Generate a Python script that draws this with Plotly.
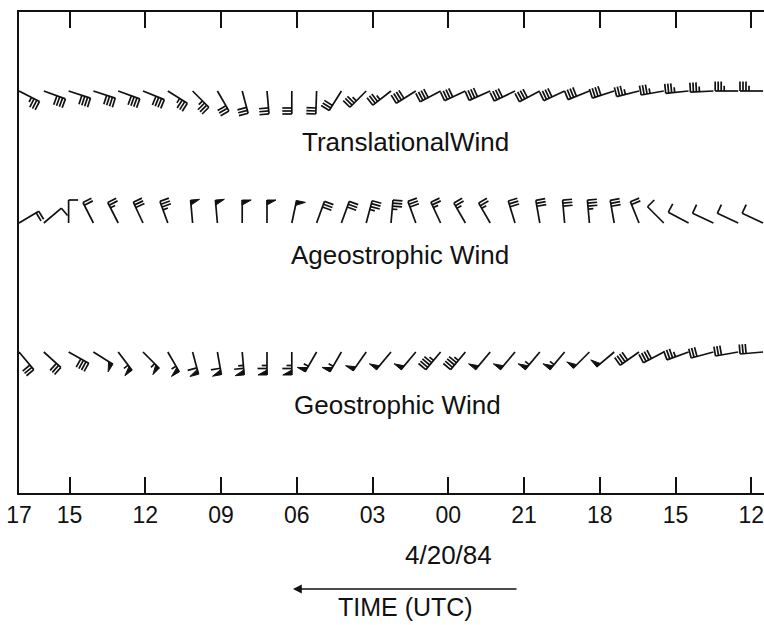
import numpy as np
import plotly.graph_objects as go

# ---------------- data ----------------
# hourly observations, numbered left -> right (time runs right-to-left)
obs_num = list(range(1, 32))

# time axis: hours after 12 UTC 4/19/84 (left edge = 17 UTC 4/20)
tick_hours = [29, 27, 24, 21, 18, 15, 12, 9, 6, 3, 0]
tick_labels = ["17", "15", "12", "09", "06", "03", "00", "21", "18", "15", "12"]

# wind direction (deg, meteorological "from") and speed (kt), left -> right
trans_dir = [117, 110, 108, 108, 110, 112, 122, 135, 150, 165, 175, 180, 182, 212, 225, 232,
             238, 242, 245, 246, 244, 242, 245, 248, 252, 256, 260, 264, 267, 270, 270]
trans_spd = [35, 40, 40, 40, 40, 40, 35, 35, 30, 30, 30, 30, 30, 30, 35, 35,
             40, 40, 40, 40, 40, 40, 40, 40, 40, 35, 35, 35, 35, 35, 35]

ageo_dir = [59, 50, 0, 333, 333, 335, 340, 355, 355, 0, 0, 12, 20, 20, 15, 5,
            340, 335, 330, 330, 343, 350, 355, 355, 350, 338, 315, 298, 295, 295, 295]
ageo_spd = [20, 10, 10, 20, 25, 30, 35, 50, 50, 50, 50, 50, 30, 30, 35, 35,
            30, 25, 25, 25, 30, 30, 30, 35, 30, 20, 10, 10, 10, 10, 10]

geo_dir = [140, 132, 119, 122, 143, 135, 150, 165, 170, 175, 180, 180, 210, 210, 215, 220,
           220, 220, 220, 220, 220, 220, 220, 225, 230, 235, 242, 250, 255, 260, 265]
geo_spd = [30, 30, 40, 50, 55, 55, 55, 60, 60, 65, 65, 65, 55, 55, 50, 50,
           50, 45, 45, 50, 50, 55, 55, 50, 50, 40, 40, 35, 30, 30, 30]

row_names = ["TranslationalWind", "Ageostrophic Wind", "Geostrophic Wind"]

# ---------------- layout constants ----------------
W, H = 764, 625
ML, MR, MT, MB = 19, 0, 12, 132
PW, PH = W - ML - MR, H - MT - MB
X_RANGE = [29.0, -0.5]                 # time axis (reversed)
OBS_SPACING_PX = 24.8
X2_RANGE = [1, 1 + PW / OBS_SPACING_PX]
PX_PER_OBS = PW / (X2_RANGE[1] - X2_RANGE[0])

ROW_Y = [PH - (91 - MT), PH - (223 - MT), PH - (352 - MT)]      # station heights (px units)
LABEL_Y = [PH - (142 - MT), PH - (255 - MT), PH - (405 - MT)]
LABEL_X = [405, 400, 397]

STAFF, FLEN, SPACE, PBASE, PLEN = 23.0, 9.5, 3.0, 5.0, 9.0
INK = "#111111"


def barbs(dirs, spds, y0):
    lx, ly, fx, fy = [], [], [], []

    def to_data(n0, p):
        return n0 + p[0] / PX_PER_OBS, y0 + p[1]

    for n0, th, sp in zip(obs_num, dirs, spds):
        t = np.radians(th)
        d = np.array([np.sin(t), np.cos(t)])
        f = np.array([np.cos(t), -np.sin(t)])
        S = np.zeros(2)
        segs = [(S, S + STAFF * d)]
        n50 = sp // 50
        rem = sp - 50 * n50
        n10 = rem // 10
        rem -= 10 * n10
        n5 = 1 if rem >= 5 else 0
        pos = STAFF
        for _ in range(n50):
            a = S + pos * d
            b = S + (pos - PBASE) * d
            c = a + PLEN * f
            for p in (a, c, b, a):
                x, y = to_data(n0, p)
                fx.append(x); fy.append(y)
            fx.append(None); fy.append(None)
            pos -= PBASE + 1.5
        for _ in range(n10):
            p = S + pos * d
            segs.append((p, p + FLEN * f))
            pos -= SPACE
        for _ in range(n5):
            if n50 == 0 and n10 == 0:
                pos -= SPACE
            p = S + pos * d
            segs.append((p, p + 0.55 * FLEN * f))
        for p, q in segs:
            x1, y1 = to_data(n0, p)
            x2, y2 = to_data(n0, q)
            lx += [x1, x2, None]
            ly += [y1, y2, None]
    return lx, ly, fx, fy


fig = go.Figure()
# time axis carrier (no visible marks) so the time axis is drawn
fig.add_trace(go.Scatter(x=tick_hours, y=[None] * len(tick_hours), mode="markers",
                         marker=dict(opacity=0), hoverinfo="skip", showlegend=False))
for dirs, spds, y0 in zip([trans_dir, ageo_dir, geo_dir],
                          [trans_spd, ageo_spd, geo_spd], ROW_Y):
    lx, ly, fx, fy = barbs(dirs, spds, y0)
    fig.add_trace(go.Scatter(x=lx, y=ly, mode="lines", xaxis="x2",
                             line=dict(color=INK, width=1.7), hoverinfo="skip",
                             showlegend=False))
    if fx:
        fig.add_trace(go.Scatter(x=fx, y=fy, mode="lines", fill="toself", xaxis="x2",
                                 fillcolor=INK, line=dict(color=INK, width=1),
                                 hoverinfo="skip", showlegend=False))

FONT = "Liberation Sans, Arial, sans-serif"
annotations = []
for name, lxp, lyp in zip(row_names, LABEL_X, LABEL_Y):
    annotations.append(dict(text=name, xref="paper", yref="y",
                            x=(lxp - ML) / PW, y=lyp, showarrow=False,
                            xanchor="center", yanchor="middle",
                            font=dict(size=26, color=INK, family=FONT)))

annotations.append(dict(text="4/20/84", xref="paper", yref="paper",
                        x=(448 - ML) / PW, y=(MT + PH - 555) / PH, showarrow=False,
                        xanchor="center", yanchor="middle",
                        font=dict(size=26, color=INK, family=FONT)))
annotations.append(dict(text="TIME (UTC)", xref="paper", yref="paper",
                        x=(405 - ML) / PW, y=(MT + PH - 607) / PH, showarrow=False,
                        xanchor="center", yanchor="middle",
                        font=dict(size=25, color=INK, family=FONT)))
annotations.append(dict(text="", xref="paper", yref="paper",
                        x=(293 - ML) / PW, y=(MT + PH - 589) / PH,
                        ax=225, ay=0, axref="pixel", ayref="pixel",
                        showarrow=True, arrowhead=2, arrowsize=1.1,
                        arrowwidth=1.6, arrowcolor=INK))

fig.update_layout(
    width=W, height=H,
    margin=dict(l=ML, r=MR, t=MT, b=MB, pad=0),
    paper_bgcolor="white", plot_bgcolor="white",
    showlegend=False,
    annotations=annotations,
    xaxis=dict(range=X_RANGE, tickvals=tick_hours, ticktext=tick_labels,
               ticks="inside", ticklen=16, tickwidth=1.5, tickcolor=INK,
               showline=True, linewidth=2, linecolor=INK, mirror="ticks",
               showgrid=False, zeroline=False, ticklabeloverflow="allow",
               tickfont=dict(size=23, color=INK, family=FONT)),
    xaxis2=dict(range=X2_RANGE, overlaying="x", side="bottom", visible=False,
                showgrid=False, zeroline=False),
    yaxis=dict(range=[0, PH], showline=True, linewidth=2, linecolor=INK,
               showticklabels=False, ticks="", showgrid=False, zeroline=False,
               mirror=False),
)

fig.write_html("out.html")
